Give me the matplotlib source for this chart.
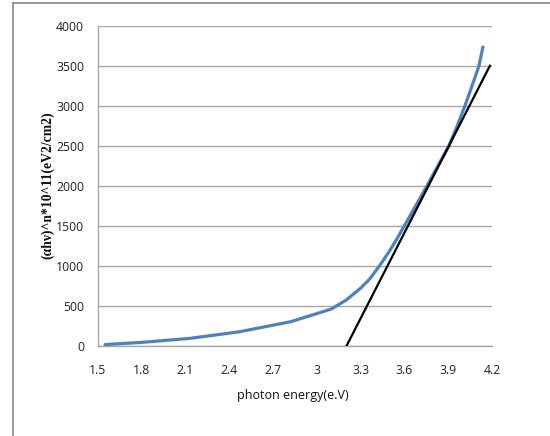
import matplotlib.pyplot as plt
from matplotlib.lines import Line2D

photon_energy = [1.55, 1.8, 2.13, 2.47, 2.82, 3.04, 3.1, 3.2, 3.3, 3.36, 3.43,
                 3.5, 3.55, 3.6, 3.755, 3.905, 3.96, 4.015, 4.06, 4.111, 4.138]
alpha_hv_n = [15, 42, 92, 175, 300, 425, 460, 570, 720, 830, 1000,
              1190, 1340, 1500, 2000, 2500, 2740, 3000, 3230, 3500, 3735]

# tangent (Tauc extrapolation) line end points
fit_x = [3.204, 4.186]
fit_y = [0, 3500]

x_ticks = [1.5, 1.8, 2.1, 2.4, 2.7, 3.0, 3.3, 3.6, 3.9, 4.2]
x_tick_labels = ["1.5", "1.8", "2.1", "2.4", "2.7", "3", "3.3", "3.6", "3.9", "4.2"]
y_ticks = [0, 500, 1000, 1500, 2000, 2500, 3000, 3500, 4000]

fig = plt.figure(figsize=(5.5, 4.36), dpi=100)
ax = fig.add_axes([0.178, 0.207, 0.7165, 0.734])

ax.plot(photon_energy, alpha_hv_n, color="#4f81bd", linewidth=2.3,
        solid_capstyle="round", solid_joinstyle="round", zorder=3)
ax.plot(fit_x, fit_y, color="black", linewidth=1.6, zorder=4)

ax.set_xlim(1.5, 4.2)
ax.set_ylim(0, 4000)
ax.set_xticks(x_ticks)
ax.set_xticklabels(x_tick_labels)
ax.set_yticks(y_ticks)
ax.tick_params(length=0, labelsize=8.8, colors="#222222")
ax.tick_params(axis="x", pad=13)
ax.tick_params(axis="y", pad=10)
for lbl in ax.get_xticklabels() + ax.get_yticklabels():
    lbl.set_family("Open Sans")

ax.grid(axis="y", color="#a6a6a6", linewidth=1.0)
ax.set_axisbelow(True)
for side in ["top", "right"]:
    ax.spines[side].set_visible(False)
for side in ["left", "bottom"]:
    ax.spines[side].set_color("#a6a6a6")
    ax.spines[side].set_linewidth(1.0)

fig.text(0.532, 0.092, "photon energy(e.V)", ha="center", va="center",
         fontsize=9, family="Open Sans", color="#111111")
fig.text(0.086, 0.575, "(\u03b1h\u03bd)^n*10^11(eV2/cm2)", rotation=90,
         ha="center", va="center", fontsize=9.8, fontweight="bold",
         family="Liberation Serif", color="#111111")

# outer chart frame
fig.add_artist(Line2D([0.024, 0.024], [0.0, 0.993], transform=fig.transFigure,
                      color="#888888", linewidth=1.2))
fig.add_artist(Line2D([0.024, 1.0], [0.993, 0.993], transform=fig.transFigure,
                      color="#888888", linewidth=1.2))

fig.savefig("out.png", dpi=100)
plt.close(fig)
